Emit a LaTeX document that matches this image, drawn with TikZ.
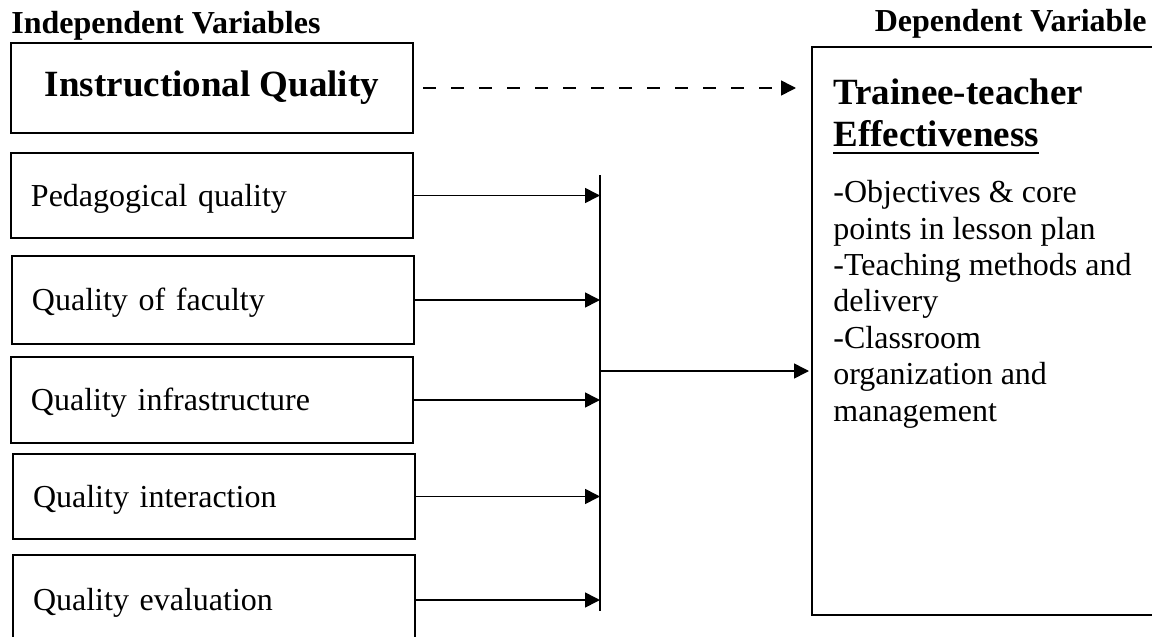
\documentclass[tikz,border=0pt]{standalone}
\usepackage{fontspec}
\setmainfont{Liberation Serif}
\usetikzlibrary{arrows.meta}
\tikzset{
	varbox/.style={draw, line width=1pt, text width=181pt, inner xsep=10pt, minimum height=#1, text height=10.5pt, text depth=0pt, align=left, font=\fontsize{16}{18}\selectfont},
	flow/.style={-{Triangle[length=7.5pt,width=7.5pt]}, line width=0.8pt},
	head/.style={inner sep=0pt, font=\bfseries\fontsize{16}{18}\selectfont},
	title/.style={inner sep=0pt, anchor=base west, font=\bfseries\fontsize{18.5}{18.5}\selectfont}
}

\begin{document}
\begin{tikzpicture}[x=0.5pt, y=-0.5pt]
			%%%%% START %%%%%
			\useasboundingbox (0, 0) rectangle (1152, 637);
			\clip (0, 0) rectangle (1152, 637);
			
			\node[head, anchor=base west] (indep) at (11, 33) {Independent Variables};
			\node[head, anchor=base east] (dep) at (1147, 32) {Dependent Variable};
			
			\node[draw, line width=1pt, minimum width=201pt, minimum height=45pt, font=\bfseries\fontsize{18.5}{20}\selectfont] (iq) at (212, 88) {Instructional Quality};
			
			\node[varbox=42.5pt] (ped) at (212, 195.5) {Pedagogical quality};
			\node[varbox=44pt] (fac) at (213, 300) {Quality of faculty};
			\node[varbox=43pt] (inf) at (212, 400) {Quality infrastructure};
			\node[varbox=42.5pt] (int) at (214, 496.5) {Quality interaction};
			\node[varbox=45pt] (eva) at (214, 600) {Quality evaluation};
			
			\node[draw, line width=1pt, minimum width=179pt, minimum height=284pt] (dv) at (991, 331) {};
			\node[title] (tt) at (833, 104) {Trainee-teacher};
			\node[title] (eff) at (833, 146) {Effectiveness};
			\draw[line width=1.25pt] ([yshift=-3.6pt]eff.base west) -- ([yshift=-3.6pt]eff.base east);
			\node[inner sep=0pt, anchor=north west, align=left, font=\fontsize{16}{18.2}\selectfont] (dims) at (833, 180) {-Objectives \& core\\points in lesson plan\\-Teaching methods and\\delivery\\-Classroom\\organization and\\management};
			
			\draw[flow, dash pattern=on 6.5pt off 7.5pt, shorten <=4.5pt, shorten >=7.5pt] (iq.east) -- (iq.east -| dv.west);
			
			\coordinate (bartop) at (600, 175);
			\coordinate (barbot) at (600, 611);
			\coordinate (join) at (600, 371);
			\draw[line width=0.8pt] (bartop) -- (barbot);
			\foreach \b in {ped, fac, inf, int, eva}
				\draw[flow] (\b.east) -- (\b.east -| bartop);
			\draw[flow, shorten >=1pt] (join) -- (join -| dv.west);
			
			%%%%% END %%%%%
\end{tikzpicture}
\end{document}
